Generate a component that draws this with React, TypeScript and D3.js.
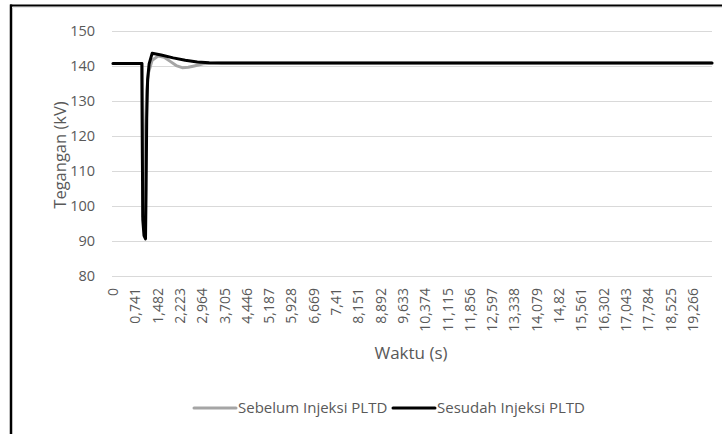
import React, { useEffect, useRef } from 'react';
import * as d3 from 'd3';

// time (s) and voltage (kV)
const beforeTime = [0, 0.96, 0.975, 0.99, 1.05, 1.12, 1.18, 1.3, 1.5, 1.7, 1.9, 2.1, 2.3, 2.5, 2.7, 3.0, 3.5, 19.9];
const beforeVolt = [140.6, 140.6, 118, 97, 115, 133, 138, 141.5, 142.7, 142.4, 141.2, 140.0, 139.4, 139.5, 139.9, 140.5, 140.7, 140.7];

const afterTime = [0, 0.96, 0.975, 0.99, 1.03, 1.08, 1.1, 1.12, 1.15, 1.2, 1.3, 1.6, 2.0, 2.4, 2.8, 3.2, 3.6, 19.9];
const afterVolt = [140.6, 140.6, 115, 96, 91.5, 90.6, 105, 125, 136, 140.5, 143.5, 143.0, 142.2, 141.5, 141.0, 140.8, 140.7, 140.7];

const yTicks = [80, 90, 100, 110, 120, 130, 140, 150];
const xTickStep = 0.741;
const xTickCount = 27;

const seriesNames = ['Sebelum Injeksi PLTD', 'Sesudah Injeksi PLTD'];
const seriesColors = ['#a5a5a5', '#000000'];

const W = 722;
const H = 434;

export default function App() {
  const ref = useRef<SVGSVGElement>(null);

  useEffect(() => {
    const svg = d3.select(ref.current);
    svg.selectAll('*').remove();

    const x = d3.scaleLinear().domain([0, 19.9]).range([113, 712]);
    const y = d3.scaleLinear().domain([80, 150]).range([276, 30.5]);
    const font = '"Open Sans", "DejaVu Sans", sans-serif';
    const textColor = '#595959';

    // frame (left + top edges only, as in the crop)
    svg.append('line').attr('x1', 11).attr('x2', 11).attr('y1', 4.5).attr('y2', H)
      .attr('stroke', '#000').attr('stroke-width', 2.5);
    svg.append('line').attr('x1', 10).attr('x2', W).attr('y1', 5.5).attr('y2', 5.5)
      .attr('stroke', '#000').attr('stroke-width', 2);
    svg.append('line').attr('x1', 12).attr('x2', W).attr('y1', 7.5).attr('y2', 7.5)
      .attr('stroke', '#e6e6e6').attr('stroke-width', 1);

    // gridlines
    svg.append('g').selectAll('line').data(yTicks).enter().append('line')
      .attr('x1', 112).attr('x2', 712)
      .attr('y1', (d) => Math.round(y(d)) + 0.5).attr('y2', (d) => Math.round(y(d)) + 0.5)
      .attr('stroke', '#d9d9d9').attr('stroke-width', 1);

    // y axis labels
    svg.append('g').selectAll('text').data(yTicks).enter().append('text')
      .attr('x', 95).attr('y', (d) => y(d)).attr('dy', '0.35em')
      .attr('text-anchor', 'end')
      .style('font-family', font).style('font-size', '14.5px').attr('fill', textColor)
      .text((d) => d);

    // x axis labels, rotated
    const xTicks = d3.range(xTickCount).map((i) => +(i * xTickStep).toFixed(3));
    svg.append('g').selectAll('text').data(xTicks).enter().append('text')
      .attr('transform', (d) => `translate(${x(d) + 5},288) rotate(-90)`)
      .attr('text-anchor', 'end')
      .style('font-family', font).style('font-size', '14px').attr('fill', textColor)
      .text((d) => String(d).replace('.', ','));

    // axis titles
    svg.append('text').attr('x', 411).attr('y', 359).attr('text-anchor', 'middle')
      .style('font-family', font).style('font-size', '17px').attr('fill', textColor)
      .text('Waktu (s)');
    svg.append('text').attr('transform', 'translate(66,155) rotate(-90)').attr('text-anchor', 'middle')
      .style('font-family', font).style('font-size', '16.5px').attr('fill', textColor)
      .text('Tegangan (kV)');

    const line = d3.line<[number, number]>().x((d) => x(d[0])).y((d) => y(d[1]));
    const series: [number, number][][] = [
      beforeTime.map((t, i) => [t, beforeVolt[i]]),
      afterTime.map((t, i) => [t, afterVolt[i]]),
    ];
    series.forEach((s, i) => {
      svg.append('path').datum(s).attr('d', line)
        .attr('fill', 'none').attr('stroke', seriesColors[i]).attr('stroke-width', 3)
        .attr('stroke-linejoin', 'round').attr('stroke-linecap', 'round');
    });

    // legend
    const legendX = [194, 393];
    seriesNames.forEach((name, i) => {
      svg.append('line').attr('x1', legendX[i]).attr('x2', legendX[i] + 42)
        .attr('y1', 408).attr('y2', 408)
        .attr('stroke', seriesColors[i]).attr('stroke-width', 3).attr('stroke-linecap', 'round');
      svg.append('text').attr('x', legendX[i] + 44).attr('y', 408).attr('dy', '0.35em')
        .style('font-family', font).style('font-size', '15px').attr('fill', textColor)
        .text(name);
    });
  }, []);

  return (
    <svg
      ref={ref}
      width={W}
      height={H}
      style={{ position: 'absolute', left: 0, top: 0, background: '#fff' }}
    />
  );
}
